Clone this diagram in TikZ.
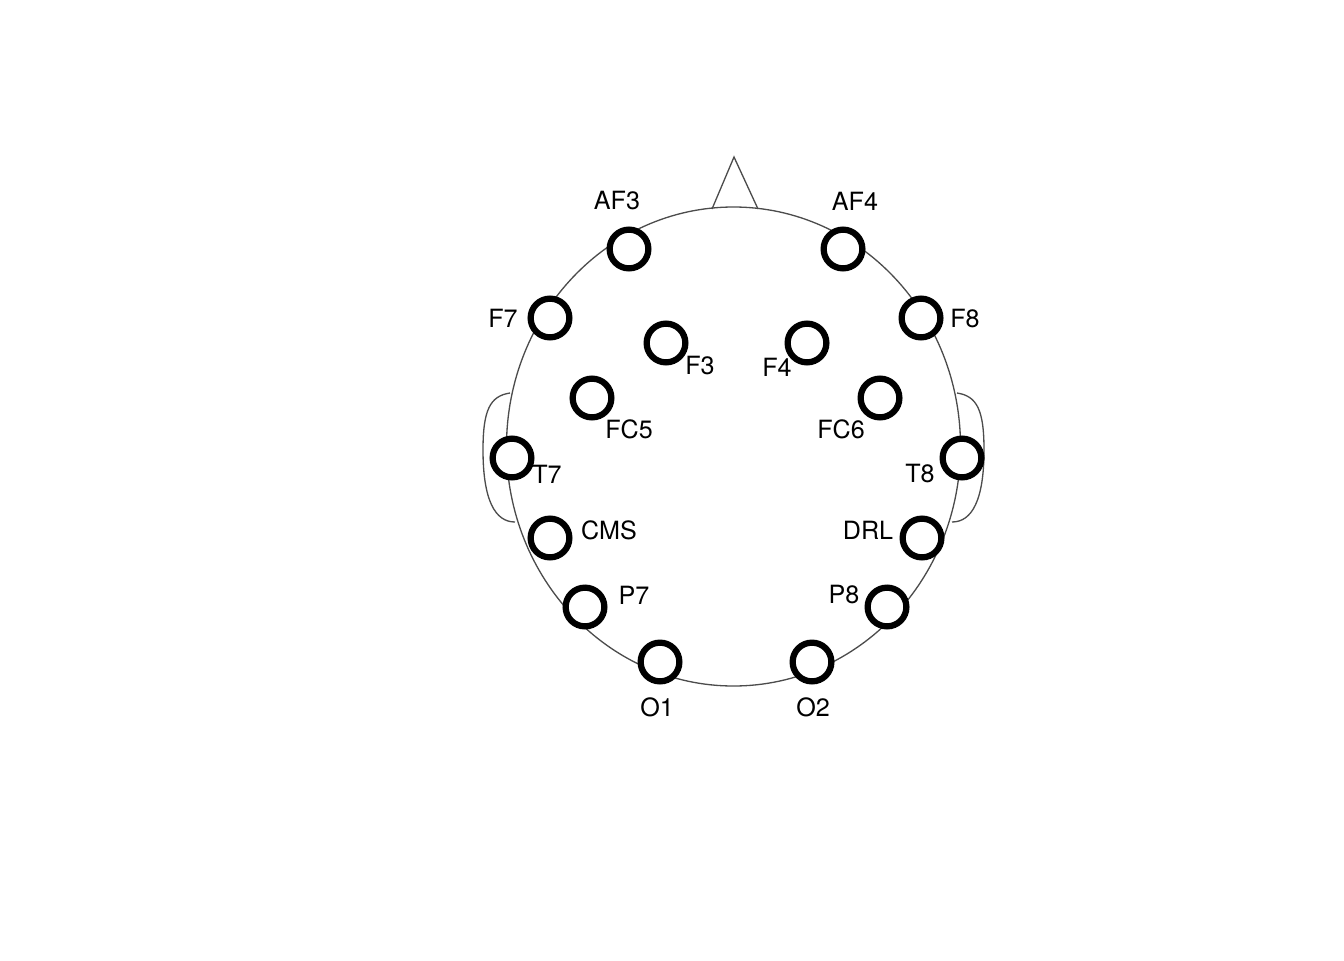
\documentclass[tikz,border=0pt]{standalone}
\usepackage{fontspec}
\setmainfont{TeX Gyre Heros}
\usepackage{tikz}

\begin{document}
\begin{tikzpicture}[x=0.02cm,y=-0.02cm,
  electrode/.style={circle,draw=black,fill=white,line width=0.125cm,minimum size=0.775cm,inner sep=0pt},
  lbl/.style={inner sep=0pt,font=\fontsize{14.3}{17}\selectfont},
  outline/.style={draw=black!70,line width=0.75pt}]
  \useasboundingbox (0,0) rectangle (1344,960);
  \draw[outline] (733.5,446.5) ellipse (227 and 239.5);
  \draw[outline] (712,209) -- (734,157) -- (758,209);
  \draw[outline] (510,393) .. controls (490,396) and (483,410) .. (483,450) .. controls (483,500) and (495,522) .. (515,522);
  \draw[outline] (957,393) .. controls (977,396) and (984,410) .. (984,450) .. controls (984,500) and (972,522) .. (952,522);
  \node[electrode] (AF3) at (629,249) {};
  \node[lbl] (AF3l) at (617,201) {AF3};
  \node[electrode] (AF4) at (843,249) {};
  \node[lbl] (AF4l) at (855,201) {AF4};
  \node[electrode] (F7) at (550,318) {};
  \node[lbl] (F7l) at (503,318) {F7};
  \node[electrode] (F8) at (921,318) {};
  \node[lbl] (F8l) at (965,319) {F8};
  \node[electrode] (F3) at (666,343) {};
  \node[lbl] (F3l) at (700,366) {F3};
  \node[electrode] (F4) at (807,343) {};
  \node[lbl] (F4l) at (777,367) {F4};
  \node[electrode] (FC5) at (592,398) {};
  \node[lbl] (FC5l) at (629,429) {FC5};
  \node[electrode] (FC6) at (880,398) {};
  \node[lbl] (FC6l) at (841,429) {FC6};
  \node[electrode] (T7) at (512,458) {};
  \node[lbl] (T7l) at (547,474) {T7};
  \node[electrode] (T8) at (962,458) {};
  \node[lbl] (T8l) at (920,474) {T8};
  \node[electrode] (CMS) at (550,538) {};
  \node[lbl] (CMSl) at (609,530) {CMS};
  \node[electrode] (DRL) at (922,538) {};
  \node[lbl] (DRLl) at (868,530) {DRL};
  \node[electrode] (P7) at (585,607) {};
  \node[lbl] (P7l) at (634,595) {P7};
  \node[electrode] (P8) at (887,607) {};
  \node[lbl] (P8l) at (844,595) {P8};
  \node[electrode] (O1) at (660,662) {};
  \node[lbl] (O1l) at (657,707) {O1};
  \node[electrode] (O2) at (812,662) {};
  \node[lbl] (O2l) at (813,707) {O2};
\end{tikzpicture}
\end{document}
